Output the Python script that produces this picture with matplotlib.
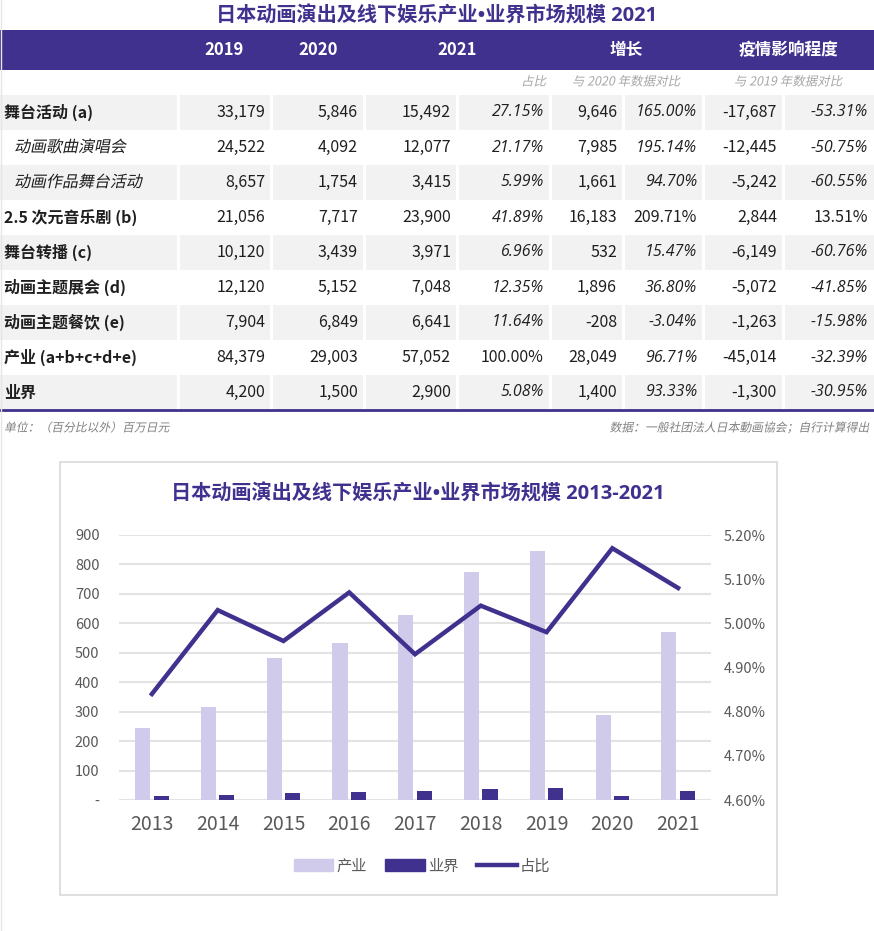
import numpy as np
import matplotlib
matplotlib.use('Agg')
import matplotlib.pyplot as plt
from matplotlib.patches import Rectangle
from matplotlib.lines import Line2D
from matplotlib.ticker import FuncFormatter
from matplotlib.patheffects import AbstractPathEffect
from matplotlib.transforms import Affine2D

plt.rcParams['font.family'] = ['Noto Sans CJK SC', 'DejaVu Sans']

# ---- table data (百万日元) ----
row_labels = ['舞台活动 (a)', '动画歌曲演唱会', '动画作品舞台活动', '2.5 次元音乐剧 (b)',
              '舞台转播 (c)', '动画主题展会 (d)', '动画主题餐饮 (e)', '产业 (a+b+c+d+e)', '业界']
sub_rows = [1, 2]
v2019 = [33179, 24522, 8657, 21056, 10120, 12120, 7904, 84379, 4200]
v2020 = [5846, 4092, 1754, 7717, 3439, 5152, 6849, 29003, 1500]
v2021 = [15492, 12077, 3415, 23900, 3971, 7048, 6641, 57052, 2900]
share21 = ['27.15%', '21.17%', '5.99%', '41.89%', '6.96%', '12.35%', '11.64%', '100.00%', '5.08%']
diff20 = [9646, 7985, 1661, 16183, 532, 1896, -208, 28049, 1400]
pct20 = ['165.00%', '195.14%', '94.70%', '209.71%', '15.47%', '36.80%', '-3.04%', '96.71%', '93.33%']
diff19 = [-17687, -12445, -5242, 2844, -6149, -5072, -1263, -45014, -1300]
pct19 = ['-53.31%', '-50.75%', '-60.55%', '13.51%', '-60.76%', '-41.85%', '-15.98%', '-32.39%', '-30.95%']
upright_pct = ['100.00%', '209.71%', '13.51%']

# ---- chart data (亿日元) ----
years = ['2013', '2014', '2015', '2016', '2017', '2018', '2019', '2020', '2021']
industry = [245, 317, 483, 533, 630, 775, 844, 290, 571]
gyokai = [12, 16, 24, 27, 31, 39, 42, 15, 29]
ratio = [4.84, 5.03, 4.96, 5.07, 4.93, 5.04, 4.98, 5.17, 5.08]

purple = '#40318F'
lilac = '#D0CAEB'
gray_fill = '#F2F2F2'
txt = '#1F1F1F'
tick_gray = '#595959'


class Slant(AbstractPathEffect):
    # fake italic for CJK glyphs (no italic face installed)
    def draw_path(self, renderer, gc, tpath, affine, rgbFace=None):
        renderer.draw_path(gc, tpath, Affine2D().skew_deg(12, 0) + affine, rgbFace)


slant = [Slant()]
title_fam = ['Open Sans', 'Noto Sans CJK SC']

W, H = 874, 931
fig = plt.figure(figsize=(W / 100, H / 100), dpi=100)
fig.patch.set_facecolor('white')

bg = fig.add_axes([0, 0, 1, 1])
bg.set_xlim(0, W)
bg.set_ylim(H, 0)
bg.axis('off')

# title + header band
bg.text(437, 16, '日本动画演出及线下娱乐产业•业界市场规模 2021', ha='center', va='center',
        fontsize=14.5, fontweight='bold', color=purple, family=title_fam)
bg.add_patch(Rectangle((0, 30), W, 40, color=purple, lw=0))
edges = [0, 178, 271, 364, 457, 550, 623, 703, 783, 874]
head = [('2019', 224), ('2020', 318), ('2021', 457), ('增长', 626), ('疫情影响程度', 788)]
for t, x in head:
    bg.text(x, 50, t, ha='center', va='center', fontsize=12, fontweight='bold', color='white')

sub_kw = dict(va='center', fontsize=9, color='#A6A6A6', path_effects=slant)
bg.text(546, 82, '占比', ha='right', **sub_kw)
bg.text(626, 82, '与 2020 年数据对比', ha='center', **sub_kw)
bg.text(788, 82, '与 2019 年数据对比', ha='center', **sub_kw)

top, rh = 95, 35
ital = ['Open Sans', 'Noto Sans CJK SC', 'DejaVu Sans']
for i, lab in enumerate(row_labels):
    y0 = top + i * rh
    yc = y0 + rh / 2
    if i % 2 == 0:
        for k in range(len(edges) - 1):
            x0 = edges[k] + (0 if k == 0 else 1.5)
            x1 = edges[k + 1] - (0 if k == len(edges) - 2 else 1.5)
            bg.add_patch(Rectangle((x0, y0), x1 - x0, rh, color=gray_fill, lw=0))
    if i in sub_rows:
        bg.text(14, yc, lab, ha='left', va='center', fontsize=11.5, color=txt, path_effects=slant)
    else:
        bg.text(4, yc, lab, ha='left', va='center', fontsize=11.5, color=txt, fontweight='bold')
    cells = [f'{v2019[i]:,}', f'{v2020[i]:,}', f'{v2021[i]:,}', share21[i],
             f'{diff20[i]:,}', pct20[i], f'{diff19[i]:,}', pct19[i]]
    for k, c in enumerate(cells):
        xr = edges[k + 2] - 6
        if c.endswith('%') and c not in upright_pct:
            bg.text(xr, yc, c, ha='right', va='center', fontsize=11.5, color=txt,
                    style='italic', family=ital)
        else:
            bg.text(xr, yc, c, ha='right', va='center', fontsize=11.5, color=txt)

bg.plot([0, W], [top + rh * 9, top + rh * 9], color=purple, lw=2)
foot_kw = dict(va='center', fontsize=8.5, color='#808080', path_effects=slant)
bg.text(4, 428, '单位：（百分比以外）百万日元', ha='left', **foot_kw)
bg.text(868, 428, '数据：一般社团法人日本動画協会；自行计算得出', ha='right', **foot_kw)

# chart frame
bg.add_patch(Rectangle((60, 462), 717, 433, fill=False, ec='#D9D9D9', lw=1.2))
bg.plot([0.5, 0.5], [0, H], color='#E6E6E6', lw=1)
bg.text(418, 494, '日本动画演出及线下娱乐产业•业界市场规模 2013-2021', ha='center', va='center',
        fontsize=14.5, fontweight='bold', color=purple, family=title_fam)

# chart
ax = fig.add_axes([119 / W, 1 - 800 / H, (711 - 119) / W, 265 / H])
x = np.arange(len(years))
ax.bar(x - 0.14, industry, width=0.23, color=lilac, zorder=2)
ax.bar(x + 0.14, gyokai, width=0.23, color=purple, zorder=2)
ax.set_xlim(-0.5, len(years) - 0.5)
ax.set_ylim(0, 900)
ax.set_yticks(range(0, 901, 100))
ax.yaxis.set_major_formatter(FuncFormatter(lambda v, p: '-' if v == 0 else f'{int(v)}'))
ax.grid(axis='y', color='#E3E3E3', lw=1.5, zorder=0)
ax.set_axisbelow(True)
ax.set_xticks(x)
ax.set_xticklabels(years)
for s in ax.spines.values():
    s.set_visible(False)
ax.tick_params(axis='y', length=0, pad=14, labelsize=10.5, labelcolor=tick_gray)
ax.tick_params(axis='x', length=0, pad=10, labelsize=14, labelcolor=tick_gray)

ax2 = ax.twinx()
ax2.plot(x, ratio, color=purple, lw=3.2, solid_joinstyle='miter', zorder=3)
ax2.set_ylim(4.6, 5.2)
ax2.set_yticks(np.arange(4.6, 5.21, 0.1))
ax2.yaxis.set_major_formatter(FuncFormatter(lambda v, p: f'{v:.2f}%'))
for s in ax2.spines.values():
    s.set_visible(False)
ax2.tick_params(axis='y', length=0, pad=9, labelsize=10.5, labelcolor=tick_gray)

handles = [Rectangle((0, 0), 1, 1, color=lilac), Rectangle((0, 0), 1, 1, color=purple),
           Line2D([0], [0], color=purple, lw=3.2)]
fig.legend(handles, ['产业', '业界', '占比'], loc='center', bbox_to_anchor=(422 / W, 1 - 866 / H),
           ncol=3, frameon=False, fontsize=11, labelcolor=tick_gray, handlelength=2.6,
           handleheight=0.8, handletextpad=0.2, columnspacing=1.2)

fig.savefig('out.png', dpi=100)
